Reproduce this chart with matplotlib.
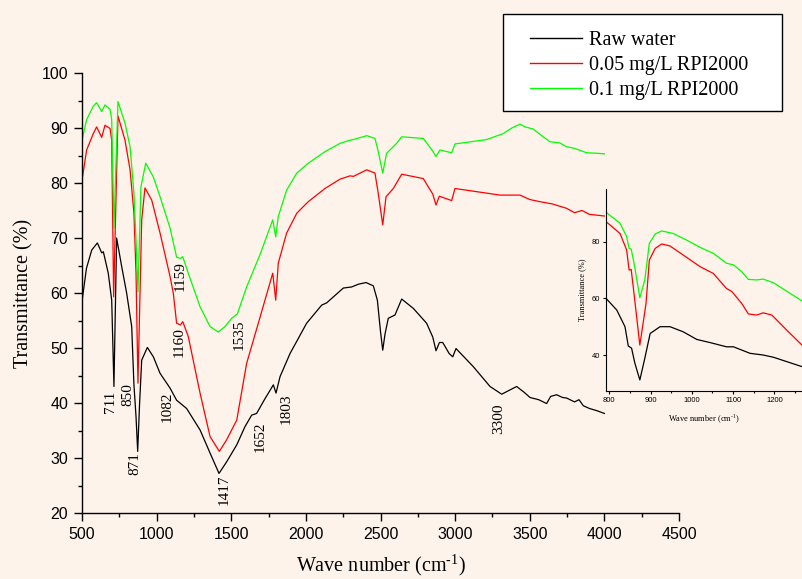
import numpy as np
import matplotlib.pyplot as plt
from matplotlib.patches import Rectangle
from matplotlib.lines import Line2D
from matplotlib.ticker import MultipleLocator

plt.rcParams['font.family'] = ['Liberation Sans', 'DejaVu Sans']
plt.rcParams['mathtext.fontset'] = 'custom'
plt.rcParams['mathtext.rm'] = 'Liberation Serif'

bg = '#fdf3eb'
serif = 'Liberation Serif'

# ---- main spectra (wave number, transmittance) ----
raw_x = [500, 530, 565, 603, 632, 643, 676, 699, 714, 732, 766, 799, 833, 848, 862, 873, 886, 900,
         938, 978, 1023, 1090, 1134, 1201, 1291, 1358, 1418, 1469, 1537, 1592, 1637, 1670, 1720,
         1782, 1800, 1827, 1894, 2005, 2106, 2139, 2251, 2307, 2352, 2403, 2452, 2479, 2500, 2515, 2530,
         2552, 2597, 2642, 2720, 2809, 2850, 2872, 2895, 2917, 2960, 2984, 3006, 3122, 3234, 3312,
         3412, 3460, 3502, 3560, 3613, 3640, 3680, 3720, 3747, 3800, 3830, 3859, 3900, 3950, 4000]
raw_y = [58.5, 64.5, 67.8, 69.1, 67.3, 67.5, 63.6, 58.7, 43.0, 70.0, 64.8, 60.0, 53.9, 43.3, 37.5, 31.2, 40.0, 47.8,
         50.1, 48.4, 45.4, 42.7, 40.5, 39.0, 35.1, 30.9, 27.2, 29.3, 32.4, 35.7, 37.8, 38.1, 40.5,
         43.3, 41.8, 44.8, 49.0, 54.5, 57.8, 58.2, 60.9, 61.1, 61.6, 61.9, 61.3, 58.7, 53.0, 49.6, 52.5,
         55.4, 56.0, 58.9, 57.2, 54.5, 52.0, 49.5, 51.0, 51.0, 49.0, 48.4, 49.9, 46.6, 43.0, 41.6,
         43.0, 42.0, 41.0, 40.6, 39.9, 41.2, 41.5, 41.0, 40.9, 40.2, 40.6, 39.5, 39.0, 38.6, 38.1]

mg005_x = [500, 531, 576, 598, 632, 654, 688, 699, 712, 741, 788, 822, 848, 862, 875, 900, 922, 967,
           1023, 1090, 1112, 1134, 1160, 1175, 1212, 1291, 1358, 1420, 1469, 1537, 1603, 1693, 1778,
           1798, 1815, 1871, 1939, 2016, 2128, 2229, 2296, 2318, 2408, 2463, 2485, 2515, 2537, 2586, 2642, 2787,
           2820, 2850, 2872, 2894, 2977, 2999, 3150, 3301, 3435, 3500, 3569, 3650, 3747, 3800, 3850,
           3900, 4000]
mg005_y = [80.5, 86.0, 89.0, 90.2, 88.3, 90.5, 89.9, 87.8, 59.3, 92.2, 87.8, 82.4, 74.5, 63.6, 43.6, 73.3, 79.1, 76.9,
           70.9, 63.0, 59.9, 54.5, 54.2, 54.8, 52.1, 41.8, 33.9, 31.2, 33.3, 36.9, 47.2, 55.6, 63.6,
           58.7, 65.4, 70.9, 74.5, 76.6, 79.0, 80.7, 81.3, 81.2, 82.4, 81.8, 78.1, 72.4, 77.5, 79.0, 81.6, 80.8,
           79.3, 78.0, 76.0, 77.6, 76.8, 79.0, 78.4, 77.8, 77.8, 77.0, 76.6, 76.2, 75.4, 74.6, 75.0,
           74.3, 74.0]

mg01_x = [500, 531, 576, 598, 632, 654, 688, 699, 714, 741, 788, 822, 848, 862, 875, 895, 927, 978,
          1023, 1090, 1134, 1160, 1175, 1212, 1291, 1358, 1413, 1458, 1503, 1541, 1603, 1693, 1778,
          1798, 1815, 1871, 1939, 2016, 2128, 2229, 2285, 2318, 2408, 2463, 2485, 2515, 2541, 2608,
          2642, 2787, 2820, 2850, 2872, 2898, 2977, 2999, 3212, 3323, 3380, 3435, 3470, 3524, 3580,
          3636, 3700, 3747, 3800, 3881, 3950, 4000]
mg01_y = [87.8, 91.5, 94.0, 94.6, 93.0, 94.2, 93.4, 91.5, 71.8, 94.8, 90.9, 86.6, 78.1, 69.6, 60.2, 79.3, 83.6, 81.1,
          77.5, 71.8, 66.5, 66.3, 66.6, 63.6, 57.5, 53.9, 52.9, 53.9, 55.4, 56.2, 61.1, 67.0, 73.3,
          70.2, 73.9, 78.7, 81.8, 83.6, 85.7, 87.2, 87.7, 87.9, 88.6, 88.1, 85.7, 81.8, 85.4, 87.2,
          88.4, 88.1, 86.9, 85.8, 84.8, 86.0, 85.5, 87.1, 87.9, 89.0, 90.0, 90.7, 90.2, 89.8, 88.6,
          87.5, 87.3, 86.6, 86.3, 85.5, 85.4, 85.3]

# ---- inset (800-1270 cm-1) ----
in_raw_x = [792, 818, 838, 846, 854, 862, 874, 886, 899, 923, 947, 979, 1012, 1044, 1084, 1101, 1141, 1173, 1198, 1267]
in_raw_y = [60.0, 55.9, 50.0, 43.2, 42.4, 37.1, 31.2, 38.8, 47.6, 50.0, 50.0, 48.2, 45.5, 44.4, 42.9, 42.9, 40.6, 40.0, 39.2, 35.9]

in_005_x = [792, 826, 842, 848, 853, 858, 874, 889, 897, 911, 927, 947, 979, 1020, 1052, 1084, 1097, 1121,
            1137, 1157, 1173, 1194, 1230, 1267]
in_005_y = [87.1, 82.9, 77.1, 70.0, 70.2, 64.1, 43.5, 58.2, 73.5, 77.6, 79.2, 78.5, 75.3, 71.2, 68.8, 63.5, 62.4, 58.2,
            54.5, 54.1, 54.9, 54.1, 48.8, 43.5]

in_01_x = [792, 826, 842, 848, 853, 860, 874, 886, 897, 911, 927, 955, 987, 1020, 1052, 1084, 1101, 1121,
           1137, 1157, 1173, 1198, 1267]
in_01_y = [90.4, 86.5, 81.8, 77.6, 77.4, 72.4, 60.2, 66.5, 79.4, 82.7, 83.8, 82.9, 80.6, 78.0, 75.9, 72.4, 71.8, 69.4,
           66.7, 66.5, 66.8, 65.5, 59.1]

# peak labels
peak_labels = ['711', '850', '871', '1082', '1159', '1160', '1535', '1417', '1652', '1803', '3300']
peak_x = [692, 810, 855, 1071, 1156, 1151, 1552, 1455, 1691, 1865, 3289]
peak_y = [40.2, 41.5, 29.0, 39.3, 63.1, 51.0, 52.4, 24.3, 33.9, 39.0, 37.2]

series_names = ['Raw water', '0.05 mg/L RPI2000', '0.1 mg/L RPI2000']
colors = ['black', '#ff0000', '#00ff00']

xlabel = 'Wave number (cm$^{\\mathregular{\u20101}}$)'

fig = plt.figure(figsize=(8.02, 5.79), dpi=100, facecolor=bg)
ax = fig.add_axes([82 / 802, 1 - 513 / 579, 597 / 802, 440 / 579], facecolor=bg)

ax.plot(raw_x, raw_y, color=colors[0], lw=0.9)
ax.plot(mg005_x, mg005_y, color=colors[1], lw=0.9)
ax.plot(mg01_x, mg01_y, color=colors[2], lw=0.9)

for lab, px, py in zip(peak_labels, peak_x, peak_y):
    ax.text(px, py, lab, rotation=90, ha='center', va='center', fontsize=11, family=serif)

ax.set_xlim(500, 4500)
ax.set_ylim(20, 100)
ax.xaxis.set_major_locator(MultipleLocator(500))
ax.xaxis.set_minor_locator(MultipleLocator(250))
ax.yaxis.set_major_locator(MultipleLocator(10))
ax.yaxis.set_minor_locator(MultipleLocator(5))
ax.tick_params(which='major', direction='out', length=6, width=1, labelsize=11.5, pad=4)
ax.tick_params(which='minor', direction='out', length=3, width=1)
for s in ['top', 'right']:
    ax.spines[s].set_visible(False)
for s in ['left', 'bottom']:
    ax.spines[s].set_linewidth(1)

ax.set_xlabel(xlabel, fontsize=14.5, family=serif, labelpad=7.5)
ax.set_ylabel('Transmittance (%)', fontsize=14.5, family=serif, labelpad=6)

# legend box
fig.patches.append(Rectangle((502.7 / 802, 1 - 111 / 579), 279.6 / 802, 96.7 / 579,
                             transform=fig.transFigure, facecolor='white', edgecolor='black',
                             lw=1, zorder=5))
handles = [Line2D([], [], color=c, lw=1) for c in colors]
fig.legend(handles, series_names, loc='upper left', bbox_to_anchor=(530 / 802, 1 - 31 / 579),
           frameon=False, prop={'family': serif, 'size': 14.5}, handlelength=2.6,
           handletextpad=0.35, labelspacing=0.3, borderpad=0, borderaxespad=0)

# inset
axin = fig.add_axes([606 / 802, 1 - 391 / 579, 1 - 606 / 802, 202 / 579], facecolor=bg)
axin.plot(in_raw_x, in_raw_y, color=colors[0], lw=0.9)
axin.plot(in_005_x, in_005_y, color=colors[1], lw=0.9)
axin.plot(in_01_x, in_01_y, color=colors[2], lw=0.9)
axin.set_xlim(792, 1267)
axin.set_ylim(27.3, 98.6)
axin.xaxis.set_major_locator(MultipleLocator(100))
axin.xaxis.set_minor_locator(MultipleLocator(50))
axin.yaxis.set_major_locator(MultipleLocator(20))
axin.tick_params(which='major', direction='out', length=2.5, width=0.8, labelsize=5.5, pad=2)
axin.tick_params(which='minor', direction='out', length=1.5, width=0.8)
for s in ['top', 'right']:
    axin.spines[s].set_visible(False)
axin.set_xlabel(xlabel, fontsize=6, family=serif, labelpad=6)
axin.set_ylabel('Transmittance (%)', fontsize=6, family=serif, labelpad=4)

fig.savefig('out.png', dpi=100, facecolor=bg)
